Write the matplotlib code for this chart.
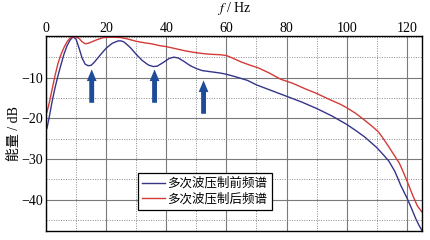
# 多次波压制前后频谱对比
import numpy as np
import matplotlib.pyplot as plt
from matplotlib.ticker import MultipleLocator

plt.rcParams['font.family'] = ['Liberation Serif', 'Noto Sans CJK SC']
plt.rcParams['mathtext.fontset'] = 'stix'

# 压制前 (blue)
f_before = [0.3, 1, 2, 3, 4, 5, 6, 7, 8, 9, 10, 11, 12, 13, 14, 15, 16, 18, 20,
            22, 24, 25, 26, 28, 30, 32, 34, 35.6, 37, 39, 41, 42.5, 44, 46, 48,
            50, 52, 55, 58, 60, 63, 67, 70, 75, 80, 85, 90, 95, 100, 103, 106,
            110, 112, 114, 116, 118, 120, 121.5, 123, 124, 125]
db_before = [-22.5, -20, -16, -12.5, -9.5, -6.8, -4.2, -2.2, -0.8, 0, -0.6, -2.8,
             -5.2, -6.7, -7.1, -7.0, -6.3, -4.5, -2.8, -1.6, -1.0, -1.0, -1.3,
             -2.6, -4.3, -5.8, -6.9, -7.3, -7.2, -6.3, -5.3, -5.0, -5.2, -6.1,
             -7.1, -7.8, -8.3, -8.6, -8.9, -9.2, -9.8, -10.7, -11.8, -13.2,
             -14.6, -16.0, -17.6, -19.4, -21.5, -23.0, -24.6, -27.2, -28.8,
             -30.5, -33.0, -36.5, -39.5, -42, -44.7, -46.2, -47.5]

# 压制后 (red)
f_after = [0.3, 1, 2, 3, 4, 5, 6, 7, 8, 9, 10, 11, 12, 13, 14, 15, 17, 19, 21,
           23, 25, 27, 30, 33, 35, 38, 40, 43, 46, 49, 52, 55, 58, 60, 62, 65,
           68, 70.5, 74, 78, 82, 86, 90, 94, 98, 100, 103, 106, 108.5, 110.5,
           112, 114, 116, 117.5, 119, 120.5, 122, 123.5, 125]
db_after = [-18.5, -16.5, -13, -9.5, -6.5, -4.3, -2.6, -1.2, -0.3, 0, 0, -0.4,
            -1.2, -1.7, -1.6, -1.3, -0.7, -0.2, -0.1, -0.1, -0.2, -0.5, -1.1,
            -1.5, -1.7, -2.2, -2.4, -2.9, -3.4, -3.8, -4.1, -4.3, -4.4, -4.6,
            -5.2, -6.2, -7.0, -7.6, -8.8, -10.4, -11.4, -12.7, -13.9, -15.3,
            -16.6, -17.4, -18.8, -20.5, -22.0, -23.3, -24.8, -27.0, -29.3, -31,
            -33.5, -36.2, -39.0, -41.5, -43]

# arrows: frequency, tip, tail (dB)
arrow_f = [15.2, 36.1, 52.4]
arrow_tip = [-8.0, -8.0, -10.7]
arrow_tail = [-16.2, -16.2, -18.9]

labels = ['多次波压制前频谱', '多次波压制后频谱']

fig = plt.figure(figsize=(4.3, 2.4), dpi=100)
ax = fig.add_axes([0.107, 0.039, 0.874, 0.811])

ax.plot(f_before, db_before, color='#35358a', lw=1.0, label=labels[0])
ax.plot(f_after, db_after, color='#d43a3a', lw=1.0, label=labels[1])

for f, tip, tail in zip(arrow_f, arrow_tip, arrow_tail):
    ax.annotate('', xy=(f, tip), xytext=(f, tail),
                arrowprops=dict(arrowstyle='simple,head_length=1.2,head_width=1.0,tail_width=0.5',
                                fc='#1f4c98', ec='none', mutation_scale=7,
                                shrinkA=0, shrinkB=0))

ax.set_xlim(0, 125)
ax.set_ylim(-47.6, 0.2)
ax.xaxis.set_major_locator(MultipleLocator(20))
ax.xaxis.set_minor_locator(MultipleLocator(10))
ax.yaxis.set_major_locator(MultipleLocator(10))
ax.yaxis.set_minor_locator(MultipleLocator(5))
ax.set_yticks([-10, -20, -30, -40])
ax.xaxis.tick_top()
ax.xaxis.set_label_position('top')
ax.tick_params(which='both', length=0, labelsize=10, pad=2)
ax.tick_params(axis='x', pad=0.5)

ax.grid(which='major', color='#7a7a7a', lw=0.8, ls='-')
ax.grid(which='minor', color='#8a8a8a', lw=0.7, ls=(0, (1, 1.5)))
ax.set_axisbelow(True)
for s in ax.spines.values():
    s.set_linewidth(1.0)
    s.set_color('black')

ax.set_xlabel(r'$f$ / Hz', fontsize=10)
ax.xaxis.set_label_coords(0.5, 1.125)
ax.set_ylabel('能量 / dB', fontsize=10)
ax.yaxis.set_label_coords(-0.066, 0.5)

leg = ax.legend(loc='lower left', bbox_to_anchor=(0.245, 0.106), borderaxespad=0,
                fontsize=9, fancybox=False, framealpha=1, edgecolor='black',
                handlelength=1.8, handletextpad=0.2, borderpad=0.35, labelspacing=0.25)
leg.get_frame().set_linewidth(0.9)

fig.savefig('out.png', dpi=100)
